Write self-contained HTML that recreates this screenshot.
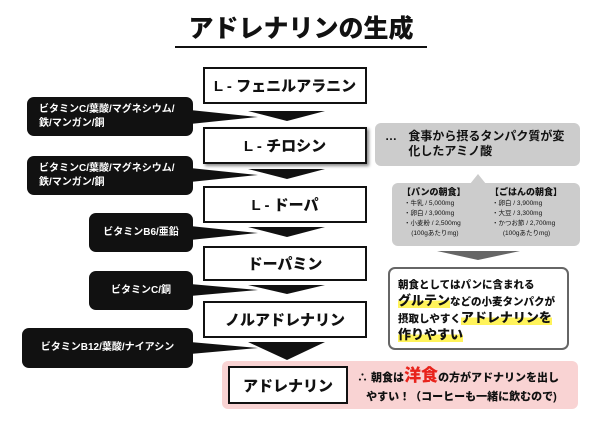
<!DOCTYPE html>
<html><head><meta charset="utf-8"><style>
*{margin:0;padding:0;box-sizing:border-box}
body{width:600px;height:423px;background:#fff;position:relative;overflow:hidden;font-family:"Liberation Sans","Noto Sans CJK JP",sans-serif;font-weight:bold;color:#111}
.a{position:absolute}
.box{position:absolute;border:2px solid #111;background:#fff;display:flex;align-items:center;justify-content:center;font-size:15px;font-weight:900}
.lab{position:absolute;background:#111;color:#fff;border-radius:7px;font-size:10px;display:flex;align-items:center;padding-left:12px;line-height:14px}
</style></head><body>
<div class="a" style="left:175px;top:12px;width:252px;text-align:center;font-size:25px;font-weight:900;border-bottom:2.5px solid #111;line-height:34px">アドレナリンの生成</div>

<div class="a" style="left:222px;top:361px;width:356px;height:48px;background:#f9d3d3;border-radius:6px"></div>

<svg class="a" style="left:0;top:0" width="600" height="423">
<g fill="#111">
<polygon points="190,110 258,117 190,124"/><polygon points="248,111 325,111 287,121"/>
<polygon points="190,168 258,175 190,182"/><polygon points="248,169 325,169 287,179"/>
<polygon points="190,226 258,233 190,240"/><polygon points="248,227 325,227 287,237"/>
<polygon points="190,284 258,290 190,296"/><polygon points="248,285 325,285 287,294"/>
<polygon points="190,342 258,348 190,354"/><polygon points="248,342 325,342 287,360"/>
</g>
<polygon points="437,251 520,251 478,260" fill="#666"/>
<polygon points="470,184 478,174 486,184" fill="#ccc"/>
</svg>

<div class="box" style="left:203px;top:67px;width:164px;height:37px">L - フェニルアラニン</div>
<div class="box" style="left:203px;top:127px;width:164px;height:37px;box-shadow:2px 2px 3px #888">L - チロシン</div>
<div class="box" style="left:203px;top:186px;width:164px;height:37px">L - ドーパ</div>
<div class="box" style="left:203px;top:246px;width:164px;height:35px">ドーパミン</div>
<div class="box" style="left:203px;top:301px;width:164px;height:37px">ノルアドレナリン</div>
<div class="box" style="left:228px;top:366px;width:120px;height:38px">アドレナリン</div>

<div class="lab" style="left:27px;top:97px;width:166px;height:39px">ビタミンC/葉酸/マグネシウム/<br>鉄/マンガン/銅</div>
<div class="lab" style="left:27px;top:156px;width:166px;height:39px">ビタミンC/葉酸/マグネシウム/<br>鉄/マンガン/銅</div>
<div class="lab" style="left:89px;top:213px;width:104px;height:39px;justify-content:center;padding:0">ビタミンB6/亜鉛</div>
<div class="lab" style="left:89px;top:271px;width:104px;height:39px;justify-content:center;padding:0">ビタミンC/銅</div>
<div class="lab" style="left:22px;top:328px;width:171px;height:40px;justify-content:center;padding:0">ビタミンB12/葉酸/ナイアシン</div>

<div class="a" style="left:375px;top:123px;width:205px;height:43px;background:#ccc;border-radius:6px;font-size:12px;line-height:15px;padding:6px 0 0 10px">… <span style="display:inline-block;vertical-align:top;margin-left:8px">食事から摂るタンパク質が変<br>化したアミノ酸</span></div>

<div class="a" style="left:392px;top:183px;width:188px;height:63px;background:#ccc;border-radius:6px;font-size:6.5px;font-weight:normal;line-height:10px">
<div class="a" style="left:10px;top:4px;font-size:9px;font-weight:900">【パンの朝食】</div>
<div class="a" style="left:12px;top:16px">・牛乳 / 5,000mg<br>・卵白 / 3,900mg<br>・小麦粉 / 2,500mg<br>&nbsp;&nbsp;&nbsp;&nbsp;(100gあたりmg)</div>
<div class="a" style="left:98px;top:4px;font-size:9px;font-weight:900">【ごはんの朝食】</div>
<div class="a" style="left:100px;top:16px">・卵白 / 3,900mg<br>・大豆 / 3,300mg<br>・かつお節 / 2,700mg<br>&nbsp;&nbsp;&nbsp;&nbsp;&nbsp;&nbsp;(100gあたりmg)</div>
</div>

<div class="a" style="left:388px;top:267px;width:181px;height:83px;border:2px solid #666;border-radius:7px;background:#fff;font-size:10.5px;line-height:16px;padding:8px 0 0 8px;font-weight:900">朝食としてはパンに含まれる<br><span style="font-size:13px;background:linear-gradient(transparent 50%,#fff35a 50%)">グルテン</span>などの小麦タンパクが<br>摂取しやすく<span style="font-size:13px;background:linear-gradient(transparent 50%,#fff35a 50%)">アドレナリンを</span><br><span style="font-size:13px;background:linear-gradient(transparent 50%,#fff35a 50%)">作りやすい</span></div>

<div class="a" style="left:357px;top:366px;font-size:11px;line-height:19px;font-weight:900">∴ 朝食は<span style="color:#e8231c;font-size:17px">洋食</span>の方がアドナリンを出し<br>&nbsp;&nbsp;&nbsp;やすい！（コーヒーも一緒に飲むので)</div>
</body></html>
